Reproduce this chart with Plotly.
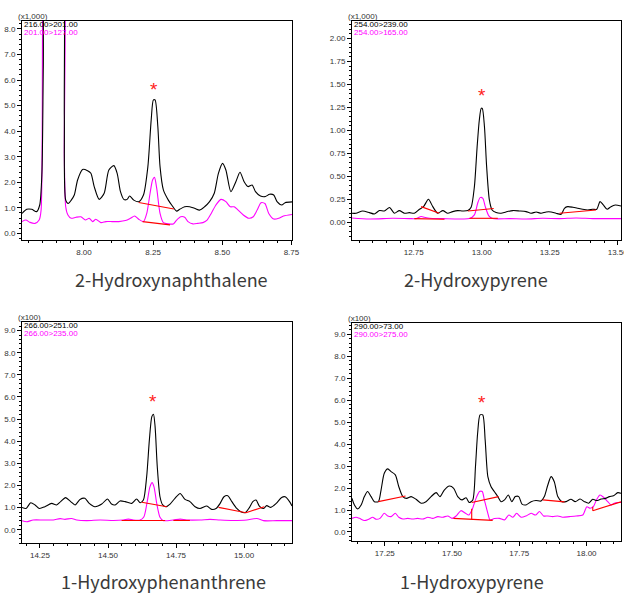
import plotly.graph_objects as go

# ---------------- data ----------------
titles = ["2-Hydroxynaphthalene", "2-Hydroxypyrene", "1-Hydroxyphenanthrene", "1-Hydroxypyrene"]
scale_labels = ["(x1,000)", "(x1,000)", "(x100)", "(x100)"]
black_channels = ["216.00>201.00", "254.00>239.00", "266.00>251.00", "290.00>73.00"]
magenta_channels = ["201.00>127.00", "254.00>165.00", "266.00>235.00", "290.00>275.00"]

# Panel 1: 2-Hydroxynaphthalene
p1_black_t = [7.776,7.793,7.811,7.829,7.840,7.848,7.853,7.860,7.890,7.922,7.929,7.934,7.943,7.954,7.965,7.977,7.995,8.013,8.025,8.037,8.055,8.073,8.090,8.108,8.120,8.132,8.144,8.156,8.165,8.180,8.198,8.215,8.231,8.243,8.251,8.257,8.267,8.275,8.287,8.305,8.317,8.335,8.346,8.364,8.382,8.400,8.418,8.436,8.454,8.471,8.486,8.501,8.513,8.531,8.549,8.564,8.579,8.593,8.608,8.620,8.638,8.656,8.671,8.686,8.698,8.715,8.727,8.752]
p1_black_y = [0.78,0.94,0.94,0.85,1.11,2.35,6.5,11,10,11,4.6,1.3,1.17,1.3,1.5,2.09,2.5,2.45,2.35,1.83,1.33,1.57,2.48,2.65,2.35,1.63,1.33,1.33,1.46,1.3,1.24,1.5,2.61,4.44,5.22,5.22,4.18,2.61,1.7,1.3,1.11,0.87,0.94,1.04,1.04,0.98,0.91,1.04,1.24,1.57,2.35,2.74,2.48,1.63,2.02,2.39,2.02,1.83,1.89,1.63,1.46,1.44,1.53,1.5,1.24,1.11,1.2,1.23]
p1_mag_t = [7.776,7.790,7.805,7.823,7.838,7.845,7.851,7.858,7.890,7.924,7.929,7.934,7.942,7.954,7.971,7.989,8.005,8.019,8.031,8.043,8.061,8.079,8.102,8.126,8.150,8.168,8.183,8.198,8.215,8.227,8.239,8.248,8.255,8.263,8.275,8.287,8.305,8.323,8.335,8.350,8.364,8.376,8.394,8.412,8.430,8.445,8.460,8.477,8.495,8.513,8.529,8.543,8.557,8.576,8.596,8.612,8.626,8.640,8.654,8.668,8.686,8.704,8.721,8.752]
p1_mag_y = [0.46,0.52,0.43,0.39,0.52,0.91,9,11,10,11,3,1.04,0.72,0.59,0.63,0.65,0.52,0.59,0.46,0.55,0.42,0.46,0.46,0.46,0.5,0.59,0.68,0.55,0.46,0.78,1.57,2.09,2.19,1.76,0.78,0.42,0.37,0.37,0.52,0.65,0.63,0.46,0.37,0.39,0.42,0.52,0.78,1.11,1.33,1.24,1.04,1.04,0.91,0.72,0.59,0.65,0.91,1.2,1.17,0.78,0.56,0.59,0.68,0.74]
p1_base_t = [8.198, 8.325, None, 8.212, 8.311]
p1_base_y = [1.21, 0.95, None, 0.46, 0.33]
p1_star = (8.252, 5.81)

# Panel 2: 2-Hydroxypyrene
p2_black_t = [12.523,12.538,12.562,12.587,12.605,12.624,12.642,12.661,12.679,12.697,12.716,12.734,12.752,12.771,12.786,12.804,12.820,12.838,12.857,12.875,12.893,12.912,12.930,12.949,12.961,12.973,12.983,12.991,12.998,13.002,13.010,13.018,13.028,13.038,13.053,13.071,13.089,13.114,13.138,13.163,13.181,13.200,13.218,13.237,13.255,13.273,13.292,13.304,13.316,13.335,13.353,13.371,13.390,13.408,13.423,13.435,13.447,13.461,13.475,13.491,13.512]
p2_black_y = [0.098,0.098,0.123,0.105,0.09,0.127,0.123,0.16,0.098,0.127,0.098,0.105,0.098,0.141,0.17,0.25,0.17,0.098,0.127,0.098,0.116,0.127,0.123,0.127,0.163,0.388,0.82,1.11,1.24,1.24,1.04,0.605,0.243,0.134,0.105,0.098,0.112,0.127,0.123,0.116,0.098,0.112,0.098,0.112,0.112,0.098,0.087,0.152,0.17,0.163,0.152,0.141,0.134,0.141,0.141,0.225,0.188,0.141,0.17,0.188,0.177]
p2_mag_t = [12.523,12.587,12.673,12.734,12.759,12.777,12.789,12.808,12.857,12.918,12.955,12.973,12.985,12.994,13.004,13.013,13.026,13.040,13.102,13.163,13.224,13.286,13.347,13.408,13.512]
p2_mag_y = [0.047,0.036,0.043,0.04,0.04,0.062,0.054,0.043,0.04,0.036,0.04,0.08,0.207,0.268,0.261,0.17,0.069,0.04,0.04,0.036,0.043,0.04,0.047,0.04,0.04]
p2_base_t = [12.777, 12.844, None, 12.949, 13.044, None, 13.286, 13.420, None, 12.752, 12.863, None, 12.955, 13.059]
p2_base_y = [0.17, 0.098, None, 0.123, 0.149, None, 0.098, 0.134, None, 0.04, 0.033, None, 0.043, 0.043]
p2_star = (13.0, 1.43)

# Panel 3: 1-Hydroxyphenanthrene
p3_black_t = [14.184,14.199,14.216,14.232,14.248,14.268,14.293,14.311,14.326,14.344,14.363,14.379,14.397,14.415,14.431,14.452,14.477,14.498,14.513,14.526,14.544,14.563,14.587,14.605,14.618,14.630,14.642,14.652,14.661,14.667,14.673,14.681,14.691,14.701,14.713,14.728,14.746,14.765,14.783,14.801,14.820,14.838,14.863,14.881,14.897,14.912,14.926,14.940,14.955,14.973,14.988,15.004,15.020,15.032,15.044,15.056,15.071,15.083,15.098,15.118,15.138,15.151,15.167,15.176]
p3_black_y = [1.01,0.96,1.22,1.12,0.96,1.04,1.19,1.12,1.27,1.45,1.27,1.12,1.37,1.42,1.19,1.04,1.16,1.39,1.16,1.12,1.3,1.27,1.19,1.39,1.22,1.34,2.4,4.06,5.11,5.22,4.66,2.85,1.49,1.12,1.04,1.16,1.42,1.64,1.37,1.27,1.04,0.96,1.07,0.92,0.96,1.19,1.49,1.54,1.27,0.96,0.81,0.77,1.01,1.27,1.34,1.07,0.96,1.09,1.01,1.19,1.46,1.49,1.27,1.07]
p3_mag_t = [14.184,14.201,14.225,14.262,14.299,14.324,14.342,14.366,14.385,14.422,14.471,14.520,14.556,14.575,14.593,14.618,14.632,14.645,14.654,14.662,14.669,14.679,14.691,14.703,14.740,14.765,14.789,14.838,14.875,14.912,14.961,15.010,15.047,15.071,15.120,15.176]
p3_mag_y = [0.41,0.36,0.44,0.44,0.44,0.5,0.47,0.51,0.44,0.41,0.44,0.42,0.44,0.48,0.44,0.44,0.59,1.34,1.94,2.13,1.94,1.19,0.56,0.41,0.44,0.48,0.44,0.44,0.47,0.44,0.42,0.44,0.51,0.41,0.41,0.41]
p3_base_t = [14.624, 14.716, None, 14.906, 15.007, 15.074, None, 14.550, 14.710, None, 14.740, 14.801]
p3_base_y = [1.24, 1.04, None, 1.01, 0.77, 1.04, None, 0.42, 0.42, None, 0.42, 0.42]
p3_star = (14.664, 6.02)

# Panel 4: 1-Hydroxypyrene
p4_black_t = [17.128,17.137,17.149,17.162,17.174,17.186,17.199,17.211,17.226,17.236,17.248,17.261,17.273,17.289,17.302,17.317,17.331,17.348,17.366,17.385,17.403,17.422,17.441,17.455,17.471,17.490,17.506,17.521,17.537,17.552,17.564,17.577,17.587,17.595,17.604,17.614,17.623,17.633,17.645,17.657,17.670,17.682,17.695,17.709,17.722,17.735,17.748,17.760,17.775,17.794,17.812,17.831,17.843,17.856,17.868,17.880,17.893,17.908,17.924,17.942,17.958,17.976,17.992,18.008,18.023,18.038,18.054,18.070,18.085,18.100,18.116,18.128]
p4_black_y = [1.53,1.23,1.05,1.23,1.61,1.84,1.61,1.38,1.38,1.91,2.67,2.87,2.75,2.6,2.06,1.61,1.53,1.61,1.49,1.31,1.38,1.61,1.79,1.61,1.91,2.09,1.99,1.61,1.46,1.56,1.34,1.46,2.97,4.49,5.33,5.33,4.19,2.52,2.06,1.84,1.61,1.38,1.46,1.68,1.38,1.61,1.61,1.27,1.23,1.38,1.43,1.41,1.61,2.14,2.52,2.29,1.61,1.38,1.38,1.49,1.38,1.5,1.38,1.31,1.49,1.43,1.5,1.53,1.61,1.65,1.79,1.76]
p4_mag_t = [17.128,17.143,17.156,17.174,17.190,17.205,17.217,17.232,17.248,17.261,17.273,17.289,17.302,17.317,17.335,17.354,17.372,17.391,17.410,17.428,17.447,17.465,17.484,17.500,17.515,17.533,17.550,17.562,17.574,17.589,17.602,17.612,17.620,17.633,17.641,17.657,17.676,17.695,17.711,17.726,17.740,17.757,17.775,17.794,17.810,17.825,17.840,17.856,17.874,17.893,17.911,17.936,17.961,17.986,18.001,18.013,18.025,18.038,18.050,18.063,18.079,18.091,18.103,18.116,18.128]
p4_mag_y = [0.62,0.67,0.62,0.52,0.58,0.67,0.58,0.62,0.85,0.73,0.7,0.85,0.67,0.59,0.62,0.59,0.62,0.59,0.67,0.62,0.7,0.67,0.73,0.62,0.73,0.97,0.85,0.77,1.0,1.53,1.84,1.84,1.46,0.85,0.55,0.61,0.62,0.55,0.77,0.67,0.85,0.67,0.73,0.85,0.77,0.93,0.73,0.73,0.7,0.73,0.67,0.7,0.73,0.77,1.15,1.08,1.15,1.49,1.68,1.58,1.38,1.23,1.31,1.34,1.34]
p4_base_t = [17.226, 17.327, None, 17.573, 17.673, None, 17.837, 17.918, None, 17.505, 17.651, None, 17.573, 17.573, None, 18.023, 18.128, None, 18.023, 18.023]
p4_base_y = [1.38, 1.64, None, 1.34, 1.61, None, 1.46, 1.37, None, 0.62, 0.53, None, 0.57, 1.06, None, 0.97, 1.37, None, 0.97, 1.15]
p4_star = (17.612, 6.12)

x_ranges = [[7.776, 8.752], [12.523, 13.512], [14.184, 15.176], [17.128, 18.128]]
y_ranges = [[-0.26, 8.31], [-0.193, 2.19], [-0.60, 9.39], [-0.41, 9.51]]
y_dticks = [1.0, 0.25, 1.0, 1.0]
y_minor = [0.2, 0.05, 0.2, 0.2]
y_formats = [".1f", ".2f", ".1f", ".1f"]

panels = [
    (p1_black_t, p1_black_y, p1_mag_t, p1_mag_y, p1_base_t, p1_base_y, p1_star),
    (p2_black_t, p2_black_y, p2_mag_t, p2_mag_y, p2_base_t, p2_base_y, p2_star),
    (p3_black_t, p3_black_y, p3_mag_t, p3_mag_y, p3_base_t, p3_base_y, p3_star),
    (p4_black_t, p4_black_y, p4_mag_t, p4_mag_y, p4_base_t, p4_base_y, p4_star),
]

# ---------------- layout geometry (pixels) ----------------
W, H = 624, 594
x_dom_px = [(22, 292), (352, 621), (22, 292), (352, 621)]
y_dom_px = [(21, 240), (21, 240), (322, 543), (323, 541)]
title_px = [(171, 279), (476, 279), (163, 581), (472, 581)]

TICK_FONT = dict(family="Liberation Sans, Arial, sans-serif", size=8, color="#333333")

fig = go.Figure()
layout = dict(width=W, height=H, margin=dict(l=0, r=0, t=0, b=0, pad=0, autoexpand=False), autosize=False,
              paper_bgcolor="white", plot_bgcolor="white", showlegend=False)
annotations = []

for i, (bt, by, mt, my, bst, bsy, star) in enumerate(panels):
    sfx = "" if i == 0 else str(i + 1)
    xa, ya = "x" + sfx, "y" + sfx
    common = dict(xaxis=xa, yaxis=ya, mode="lines", hoverinfo="skip", showlegend=False)
    fig.add_trace(go.Scatter(x=mt, y=my, line=dict(color="#ff00ff", width=1.1, shape="spline", smoothing=0.7), **common))
    fig.add_trace(go.Scatter(x=bt, y=by, line=dict(color="black", width=1.1, shape="spline", smoothing=0.7), **common))
    fig.add_trace(go.Scatter(x=bst, y=bsy, line=dict(color="#ff0000", width=1.1), connectgaps=False, **common))

    x0, x1 = x_dom_px[i]
    yt, yb = y_dom_px[i]
    layout["xaxis" + sfx] = dict(
        domain=[x0 / W, x1 / W], range=x_ranges[i], anchor=ya, automargin=False,
        dtick=0.25, tick0=0, tickformat=".2f", ticks="outside", ticklen=4, tickwidth=1, tickcolor="black",
        showline=True, linecolor="black", linewidth=1, mirror=True, showgrid=False, zeroline=False,
        tickfont=TICK_FONT, ticklabeloverflow="allow",
        minor=dict(dtick=0.05, tick0=0, ticks="outside", ticklen=2, tickwidth=1, tickcolor="black", showgrid=False))
    layout["yaxis" + sfx] = dict(
        domain=[1 - yb / H, 1 - yt / H], range=y_ranges[i], anchor=xa, automargin=False,
        dtick=y_dticks[i], tick0=0, tickformat=y_formats[i], ticks="outside", ticklen=4, tickwidth=1, tickcolor="black",
        showline=True, linecolor="black", linewidth=1, mirror=True, showgrid=False, zeroline=False,
        tickfont=TICK_FONT, ticklabeloverflow="allow",
        minor=dict(dtick=y_minor[i], tick0=0, ticks="outside", ticklen=2, tickwidth=1, tickcolor="black", showgrid=False))

    dref_x, dref_y = xa + " domain", ya + " domain"
    annotations.append(dict(text=scale_labels[i], xref=dref_x, yref=dref_y, x=0, y=1, xanchor="left", yanchor="bottom",
                            xshift=-6, yshift=-2, showarrow=False, font=dict(family="Liberation Sans, Arial", size=8, color="#333333")))
    annotations.append(dict(text=black_channels[i], xref=dref_x, yref=dref_y, x=0, y=1, xanchor="left", yanchor="top",
                            xshift=0, yshift=3, showarrow=False, font=dict(family="Liberation Sans, Arial", size=8, color="black")))
    annotations.append(dict(text=magenta_channels[i], xref=dref_x, yref=dref_y, x=0, y=1, xanchor="left", yanchor="top",
                            xshift=0, yshift=-5, showarrow=False, font=dict(family="Liberation Sans, Arial", size=8, color="#ff00ff")))
    annotations.append(dict(text="*", xref=xa, yref=ya, x=star[0], y=star[1], xanchor="center", yanchor="middle",
                            yshift=-5, showarrow=False, font=dict(family="Liberation Sans, Arial", size=19, color="#ff2020")))
    tx, ty = title_px[i]
    annotations.append(dict(text=titles[i], xref="paper", yref="paper", x=tx / W, y=1 - ty / H,
                            xanchor="center", yanchor="middle", showarrow=False,
                            font=dict(family="Noto Sans CJK JP, Noto Sans, sans-serif", size=18, color="#3a3a3a")))

layout["annotations"] = annotations
fig.update_layout(**layout)
fig.write_html(
    "out.html",
    config={"displayModeBar": False, "responsive": False},
    post_script=("document.documentElement.style.margin='0';document.documentElement.style.overflow='hidden';"
                 "document.body.style.margin='0';document.body.style.overflow='hidden';"),
)
